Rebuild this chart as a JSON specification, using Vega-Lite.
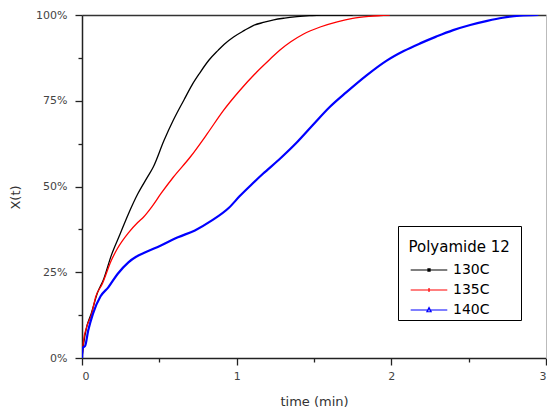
{
  "$schema": "https://vega.github.io/schema/vega-lite/v6.json",
  "width": 464,
  "height": 343,
  "autosize": {"type": "none"},
  "padding": {"left": 82, "top": 15, "right": 1, "bottom": 52},
  "background": "white",
  "config": {
    "view": {"stroke": null},
    "axis": {
      "labelFont": "DejaVu Sans",
      "labelFontSize": 11,
      "labelColor": "#444",
      "titleFont": "DejaVu Sans",
      "titleFontSize": 13,
      "titleFontWeight": "normal",
      "titleColor": "#333",
      "domainColor": "#222",
      "domainWidth": 1.5,
      "tickColor": "#222",
      "tickWidth": 1.3,
      "grid": false
    },
    "legend": {
      "orient": "none", "legendX": 316, "legendY": 211,
      "titleFont": "DejaVu Sans", "titleFontSize": 15, "titleFontWeight": "normal", "titleColor": "#000",
      "titleLineHeight": 11,
      "labelFont": "DejaVu Sans", "labelFontSize": 14, "labelColor": "#000",
      "strokeColor": "#000", "fillColor": "white", "padding": 3,
      "symbolSize": 196, "symbolStrokeWidth": 1.2, "symbolOpacity": 1,
      "labelOffset": 36, "titlePadding": 7, "rowPadding": 5
    }
  },
  "data": {
    "values": [
      {"series": "130C", "t": 0.0, "X": 0.0},
      {"series": "130C", "t": 0.01, "X": 0.04},
      {"series": "130C", "t": 0.03, "X": 0.09},
      {"series": "130C", "t": 0.06, "X": 0.13},
      {"series": "130C", "t": 0.10, "X": 0.19},
      {"series": "130C", "t": 0.14, "X": 0.23},
      {"series": "130C", "t": 0.19, "X": 0.30},
      {"series": "130C", "t": 0.245, "X": 0.36},
      {"series": "130C", "t": 0.30, "X": 0.42},
      {"series": "130C", "t": 0.36, "X": 0.478},
      {"series": "130C", "t": 0.42, "X": 0.525},
      {"series": "130C", "t": 0.46, "X": 0.556},
      {"series": "130C", "t": 0.53, "X": 0.634},
      {"series": "130C", "t": 0.59, "X": 0.693},
      {"series": "130C", "t": 0.66, "X": 0.753},
      {"series": "130C", "t": 0.71, "X": 0.795},
      {"series": "130C", "t": 0.76, "X": 0.83},
      {"series": "130C", "t": 0.82, "X": 0.868},
      {"series": "130C", "t": 0.88, "X": 0.897},
      {"series": "130C", "t": 0.92, "X": 0.915},
      {"series": "130C", "t": 0.98, "X": 0.936},
      {"series": "130C", "t": 1.05, "X": 0.955},
      {"series": "130C", "t": 1.11, "X": 0.970},
      {"series": "130C", "t": 1.18, "X": 0.979},
      {"series": "130C", "t": 1.24, "X": 0.986},
      {"series": "130C", "t": 1.31, "X": 0.991},
      {"series": "130C", "t": 1.39, "X": 0.995},
      {"series": "130C", "t": 1.47, "X": 0.998},
      {"series": "130C", "t": 1.55, "X": 1.0},
      {"series": "130C", "t": 1.75, "X": 1.0},
      {"series": "135C", "t": 0.0, "X": 0.0},
      {"series": "135C", "t": 0.01, "X": 0.05},
      {"series": "135C", "t": 0.03, "X": 0.09},
      {"series": "135C", "t": 0.06, "X": 0.125},
      {"series": "135C", "t": 0.09, "X": 0.18},
      {"series": "135C", "t": 0.13, "X": 0.215},
      {"series": "135C", "t": 0.19, "X": 0.285},
      {"series": "135C", "t": 0.23, "X": 0.32},
      {"series": "135C", "t": 0.30, "X": 0.365},
      {"series": "135C", "t": 0.36, "X": 0.395},
      {"series": "135C", "t": 0.40, "X": 0.412},
      {"series": "135C", "t": 0.45, "X": 0.44},
      {"series": "135C", "t": 0.51, "X": 0.479},
      {"series": "135C", "t": 0.59, "X": 0.527},
      {"series": "135C", "t": 0.70, "X": 0.586},
      {"series": "135C", "t": 0.81, "X": 0.654},
      {"series": "135C", "t": 0.915, "X": 0.722},
      {"series": "135C", "t": 1.02, "X": 0.78},
      {"series": "135C", "t": 1.13, "X": 0.834},
      {"series": "135C", "t": 1.22, "X": 0.873},
      {"series": "135C", "t": 1.28, "X": 0.898},
      {"series": "135C", "t": 1.35, "X": 0.922},
      {"series": "135C", "t": 1.43, "X": 0.944},
      {"series": "135C", "t": 1.54, "X": 0.965},
      {"series": "135C", "t": 1.65, "X": 0.980},
      {"series": "135C", "t": 1.75, "X": 0.99},
      {"series": "135C", "t": 1.86, "X": 0.996},
      {"series": "135C", "t": 1.99, "X": 1.0},
      {"series": "140C", "t": 0.0, "X": 0.0},
      {"series": "140C", "t": 0.005, "X": 0.03},
      {"series": "140C", "t": 0.02, "X": 0.035},
      {"series": "140C", "t": 0.04, "X": 0.08},
      {"series": "140C", "t": 0.07, "X": 0.128},
      {"series": "140C", "t": 0.12, "X": 0.18},
      {"series": "140C", "t": 0.17, "X": 0.206},
      {"series": "140C", "t": 0.23, "X": 0.245},
      {"series": "140C", "t": 0.30, "X": 0.279},
      {"series": "140C", "t": 0.35, "X": 0.295},
      {"series": "140C", "t": 0.41, "X": 0.308},
      {"series": "140C", "t": 0.51, "X": 0.328},
      {"series": "140C", "t": 0.62, "X": 0.352},
      {"series": "140C", "t": 0.73, "X": 0.372},
      {"series": "140C", "t": 0.84, "X": 0.401},
      {"series": "140C", "t": 0.95, "X": 0.438},
      {"series": "140C", "t": 1.02, "X": 0.472},
      {"series": "140C", "t": 1.09, "X": 0.503},
      {"series": "140C", "t": 1.17, "X": 0.537},
      {"series": "140C", "t": 1.28, "X": 0.581},
      {"series": "140C", "t": 1.39, "X": 0.629},
      {"series": "140C", "t": 1.50, "X": 0.683},
      {"series": "140C", "t": 1.60, "X": 0.731},
      {"series": "140C", "t": 1.71, "X": 0.775},
      {"series": "140C", "t": 1.84, "X": 0.824},
      {"series": "140C", "t": 1.97, "X": 0.867},
      {"series": "140C", "t": 2.08, "X": 0.895},
      {"series": "140C", "t": 2.19, "X": 0.918},
      {"series": "140C", "t": 2.29, "X": 0.937},
      {"series": "140C", "t": 2.40, "X": 0.956},
      {"series": "140C", "t": 2.51, "X": 0.971},
      {"series": "140C", "t": 2.62, "X": 0.983},
      {"series": "140C", "t": 2.72, "X": 0.992},
      {"series": "140C", "t": 2.83, "X": 0.998},
      {"series": "140C", "t": 2.95, "X": 1.0}
    ]
  },
  "layer": [
    {
      "mark": {"type": "line", "clip": true, "interpolate": "monotone"},
      "encoding": {
        "x": {
          "field": "t", "type": "quantitative",
          "scale": {"domain": [0, 3], "nice": false, "zero": false},
          "axis": {"orient": "bottom", "values": [0, 1, 2, 3], "format": "d", "tickSize": 7, "labelPadding": 5, "title": "time (min)", "titlePadding": 14}
        },
        "y": {
          "field": "X", "type": "quantitative",
          "scale": {"domain": [0, 1], "nice": false},
          "axis": {"orient": "left", "values": [0, 0.25, 0.5, 0.75, 1], "format": ".0%", "tickSize": 7, "labelPadding": 8, "title": "X(t)", "titleAngle": -90, "titleX": -67, "titleY": 182, "titleAlign": "center", "titleBaseline": "middle"}
        },
        "color": {
          "field": "series", "type": "nominal",
          "scale": {"domain": ["130C", "135C", "140C"], "range": ["#000000", "#ff0000", "#0000ff"]},
          "legend": {"title": ["", "\u200b\u2002Polyamide 12\u2002\u200b"]}
        },
        "strokeWidth": {"condition": {"test": "datum.series === '140C'", "value": 2.2}, "value": 1.3}
      }
    },
    {
      "mark": {"type": "point", "opacity": 0, "filled": false, "strokeWidth": 1},
      "encoding": {
        "x": {"field": "t", "type": "quantitative", "axis": {"orient": "bottom", "values": [0.5, 1.5, 2.5], "tickSize": 4, "labels": false, "domain": false, "title": null}},
        "y": {"field": "X", "type": "quantitative", "axis": {"orient": "left", "values": [0.125, 0.375, 0.625, 0.875], "tickSize": 4, "labels": false, "domain": false, "title": null}},
        "color": {
          "field": "series", "type": "nominal",
          "scale": {"domain": ["130C", "135C", "140C"], "range": ["#000000", "#ff0000", "#0000ff"]},
          "legend": {"title": ["", "\u200b\u2002Polyamide 12\u2002\u200b"]}
        },
        "shape": {
          "field": "series", "type": "nominal",
          "scale": {"domain": ["130C", "135C", "140C"], "range": ["M0.24,0H5.47M2.71,-0.15H3.01V0.15H2.71Z", "M0.24,0H5.47M2.86,-0.3V0.3", "M0.24,0H5.47M2.86,-0.35L3.16,0.25H2.56Z"]},
          "legend": {"title": ["", "\u200b\u2002Polyamide 12\u2002\u200b"]}
        }
      }
    },
    {
      "mark": {"type": "point", "opacity": 0},
      "encoding": {
        "x": {"field": "t", "type": "quantitative", "axis": {"orient": "top", "ticks": false, "labels": false, "title": null, "domainColor": "#333"}},
        "y": {"field": "X", "type": "quantitative", "axis": {"orient": "right", "ticks": false, "labels": false, "title": null, "domainColor": "#bbb", "domainWidth": 1}}
      }
    }
  ],
  "resolve": {"axis": {"x": "independent", "y": "independent"}}
}
